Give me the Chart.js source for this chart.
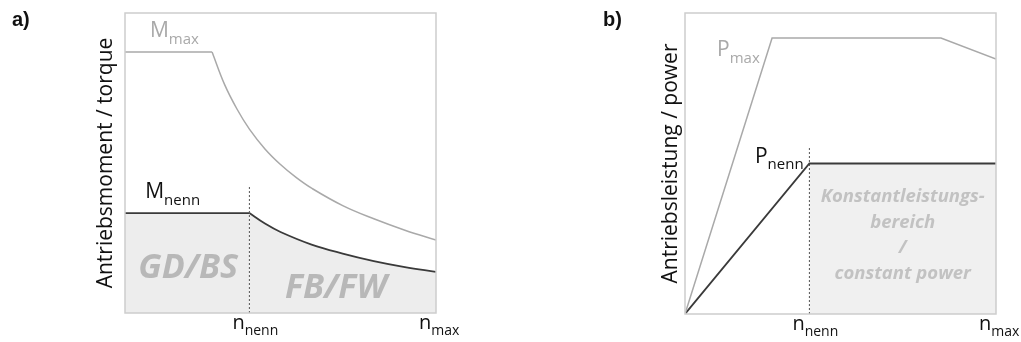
<!DOCTYPE html>
<html>
<head>
<meta charset="utf-8">
<script src="https://cdn.jsdelivr.net/npm/chart.js@4/dist/chart.umd.min.js"></script>
<style>
  body { margin: 0; background: #fff; }
  #wrap { position: relative; width: 1021px; height: 342px; }
  canvas { position: absolute; top: 0; }
</style>
</head>
<body>
<div id="wrap">
  <canvas id="chartA" width="510" height="342" style="left:0"></canvas>
  <canvas id="chartB" width="461" height="342" style="left:560px"></canvas>
</div>
<script>
// speed axis: 0 .. n_max (normalised)
var nNenn = 0.4;
var xTickSubs = ["nenn", "max"];
var xTickPos = [0.4, 1.0];

// a) torque
var mMaxFlatN = [0, 0.28];
var mMaxFlat = [0.87, 0.87];
var mMaxCurveN = [0.28, 0.32, 0.36, 0.40, 0.45, 0.50, 0.55, 0.60, 0.70, 0.80, 0.90, 1.00];
var mMaxCurve = [0.87, 0.762, 0.68, 0.613, 0.547, 0.495, 0.452, 0.416, 0.358, 0.314, 0.276, 0.243];
var mNennFlatN = [0, 0.4];
var mNennFlat = [0.333, 0.333];
var mNennCurveN = [0.40, 0.45, 0.50, 0.60, 0.70, 0.80, 0.90, 1.00];
var mNennCurve = [0.333, 0.298, 0.27, 0.228, 0.198, 0.173, 0.153, 0.137];
var markA = [0, 0.42];

// b) power
var pMaxN = [0, 0.28, 0.823, 1.0];
var pMax = [0, 0.917, 0.917, 0.847];
var pNennN = [0, 0.4, 1.0];
var pNenn = [0, 0.5, 0.5];
var constN = [0.4, 1.0];
var constP = [0.5, 0.5];
var markB = [0, 0.557];

var FONT = "'Open Sans', sans-serif";

function pts(xs, ys) {
  return xs.map(function (x, i) { return {x: x, y: ys[i]}; });
}

function subText(ctx, main, sub, x, y, color, size) {
  ctx.fillStyle = color;
  ctx.textAlign = "left";
  ctx.textBaseline = "alphabetic";
  ctx.font = size + "px " + FONT;
  ctx.fillText(main, x, y);
  var w = ctx.measureText(main).width;
  ctx.font = Math.round(size * 0.7) + "px " + FONT;
  ctx.fillText(sub, x + w, y + size * 0.32);
}

var decor = {
  id: "decor",
  afterDatasetsDraw: function (chart, args, o) {
    var ctx = chart.ctx, a = chart.chartArea;
    var xs = chart.scales.x, ys = chart.scales.y;
    ctx.save();
    // frame
    ctx.strokeStyle = "#cdcdcd";
    ctx.lineWidth = 1.5;
    ctx.strokeRect(a.left, a.top, a.right - a.left, a.bottom - a.top);
    // panel letter
    ctx.fillStyle = "#111";
    ctx.font = "bold 20px 'Liberation Sans', Arial, sans-serif";
    ctx.textAlign = "left";
    ctx.textBaseline = "alphabetic";
    ctx.fillText(o.letter, o.letterX, 26);
    // y title
    ctx.save();
    ctx.translate(a.left - o.titleGap, (a.top + a.bottom) / 2);
    ctx.rotate(-Math.PI / 2);
    ctx.font = "21px " + FONT;
    ctx.fillStyle = "#111";
    ctx.textAlign = "center";
    ctx.textBaseline = "middle";
    ctx.fillText(o.title, 0, 0);
    ctx.restore();
    // x tick labels
    xTickPos.forEach(function (v, i) {
      var px = xs.getPixelForValue(v);
      subText(ctx, "n", xTickSubs[i], px - 17, a.bottom + 16, "#111", 20);
    });
    // curve labels
    o.labels.forEach(function (l) {
      subText(ctx, l.main, l.sub, xs.getPixelForValue(l.x), ys.getPixelForValue(l.y), l.color, 21);
    });
    // region texts
    o.regions.forEach(function (r) {
      ctx.font = "italic bold " + r.size + "px " + FONT;
      ctx.fillStyle = r.color;
      ctx.textAlign = "center";
      r.lines.forEach(function (t, k) {
        ctx.fillText(t, xs.getPixelForValue(r.x), ys.getPixelForValue(r.y) + k * r.lh);
      });
    });
    ctx.restore();
  }
};

function baseOptions(pad, decorOpts) {
  return {
    responsive: false,
    animation: false,
    layout: {padding: pad},
    plugins: {legend: {display: false}, tooltip: {enabled: false}, decor: decorOpts},
    elements: {point: {radius: 0}, line: {tension: 0}},
    scales: {
      x: {type: "linear", min: 0, max: 1, display: false},
      y: {type: "linear", min: 0, max: 1, display: false}
    }
  };
}

var GREY = "#a9a9a9", DARK = "#3a3a3a", SHADE = "#ededed";

new Chart("chartA", {
  type: "line",
  data: {
    datasets: [
      {data: pts(mMaxFlatN, mMaxFlat), borderColor: GREY, borderWidth: 1.5, order: 0},
      {data: pts(mMaxCurveN, mMaxCurve), borderColor: GREY, borderWidth: 1.5, tension: 0.4, order: 0},
      {data: pts(mNennFlatN, mNennFlat), borderColor: DARK, borderWidth: 1.8, fill: "origin", backgroundColor: SHADE, order: 1},
      {data: pts(mNennCurveN, mNennCurve), borderColor: DARK, borderWidth: 1.8, fill: "origin", backgroundColor: SHADE, tension: 0.4, order: 1},
      {data: pts([nNenn, nNenn], markA), borderColor: "#555", borderWidth: 1, borderDash: [2, 2], order: 0}
    ]
  },
  options: baseOptions({left: 125, right: 74, top: 13, bottom: 29}, {
    letter: "a)", letterX: 12, title: "Antriebsmoment / torque", titleGap: 19,
    labels: [
      {main: "M", sub: "max", x: 0.08, y: 0.92, color: GREY},
      {main: "M", sub: "nenn", x: 0.065, y: 0.383, color: "#111"}
    ],
    regions: [
      {lines: ["GD/BS"], x: 0.203, y: 0.117, size: 34, lh: 0, color: "#b8b8b8"},
      {lines: ["FB/FW"], x: 0.678, y: 0.05, size: 34, lh: 0, color: "#b8b8b8"}
    ]
  }),
  plugins: [decor]
});

new Chart("chartB", {
  type: "line",
  data: {
    datasets: [
      {data: pts(pMaxN, pMax), borderColor: GREY, borderWidth: 1.5, order: 0},
      {data: pts(pNennN, pNenn), borderColor: DARK, borderWidth: 1.8, order: 0},
      {data: pts(constN, constP), borderWidth: 0, borderColor: "rgba(0,0,0,0)", fill: "origin", backgroundColor: "#f0f0f0", order: 2},
      {data: pts([nNenn, nNenn], markB), borderColor: "#555", borderWidth: 1, borderDash: [2, 2], order: 0}
    ]
  },
  options: baseOptions({left: 125, right: 25, top: 13, bottom: 28}, {
    letter: "b)", letterX: 43, title: "Antriebsleistung / power", titleGap: 14,
    labels: [
      {main: "P", sub: "max", x: 0.103, y: 0.857, color: GREY},
      {main: "P", sub: "nenn", x: 0.225, y: 0.503, color: "#111"}
    ],
    regions: [
      {lines: ["Konstantleistungs-", "bereich", "/", "constant power"], x: 0.7, y: 0.372, size: 18.5, lh: 25.5, color: "#c2c2c2"}
    ]
  }),
  plugins: [decor]
});
</script>
</body>
</html>
